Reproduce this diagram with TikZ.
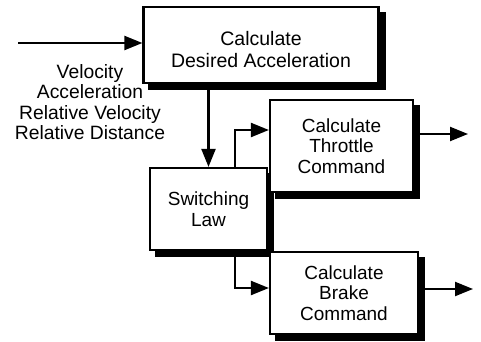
\documentclass[tikz,border=0pt]{standalone}
\usepackage{fontspec}
\setmainfont{Liberation Sans}
\usetikzlibrary{arrows.meta,shadows}
\begin{document}
\begin{tikzpicture}[x=1pt,y=-1pt,
  line width=2.2pt,
  box node/.style={rectangle,draw,fill=white,align=center,inner sep=0pt,
    font=\fontsize{19}{20.5}\selectfont,
    copy shadow={shadow xshift=6pt,shadow yshift=-6pt,fill=black,draw=black}},
  arr/.style={-{Triangle[length=18pt,width=14pt]}}]

  \useasboundingbox (0,0) rectangle (481,342);

  \node[box node,minimum width=235pt,minimum height=76pt,font=\fontsize{19.5}{22}\selectfont]
    (calc) at (261,45) {\rule{0pt}{24pt}Calculate\\Desired Acceleration};
  \node[box node,minimum width=117pt,minimum height=82pt] (switch) at (208.5,209) {Switching\\Law};
  \node[box node,minimum width=143pt,minimum height=92pt] (throttle) at (341.5,146) {Calculate\\Throttle\\Command};
  \node[box node,minimum width=148pt,minimum height=82pt] (brake) at (344,293) {Calculate\\Brake\\Command};

  \node[align=center,font=\fontsize{19.3}{20.5}\selectfont] (inputs) at (90,102)
    {Velocity\\Acceleration\\Relative Velocity\\Relative Distance};

  \coordinate (in) at (18,43);
  \coordinate (tout) at (468,134);
  \coordinate (bout) at (473,289);

  \path[arr]
   (in) edge (in -| calc.west)
   (switch.north |- calc.south) edge (switch.north)
   (throttle.east |- tout) edge (tout)
   (brake.east |- bout) edge (bout);

  \draw[arr] ([xshift=26.5pt]switch.north) |- ([yshift=16pt]throttle.west);
  \draw[arr] ([xshift=26.5pt]switch.south) |- ([yshift=5pt]brake.west);
\end{tikzpicture}
\end{document}
